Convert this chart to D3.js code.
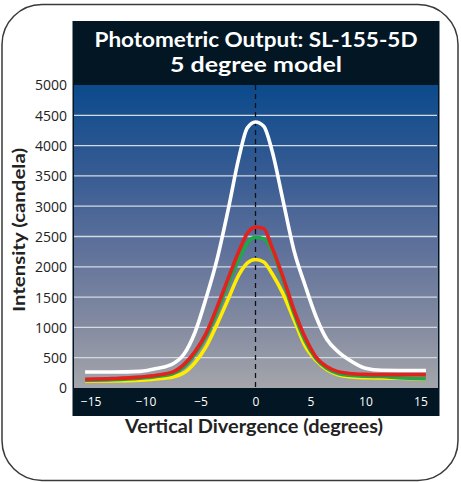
<!DOCTYPE html>
<html>
<head>
<meta charset="utf-8">
<script src="https://cdn.jsdelivr.net/npm/d3@7"></script>
<style>
  html, body { margin: 0; padding: 0; background: #fff; }
  svg { display: block; }
</style>
</head>
<body>
<svg id="chart" width="461" height="482"></svg>
<script>
// ---- data ----
const titleLines = ["Photometric Output: SL-155-5D", "5 degree model"];
const xLabel = "Vertical Divergence (degrees)";
const yLabel = "Intensity (candela)";
const xTicks = [-15, -10, -5, 0, 5, 10, 15];
const yTicks = [0, 500, 1000, 1500, 2000, 2500, 3000, 3500, 4000, 4500, 5000];
const degrees = [-15.5, -13, -10.5, -9, -7.5, -6.5, -5.5, -4.5, -3.5, -2.5, -1.5, -0.75, 0, 0.75, 1.5, 2.5, 3.5, 4.5, 5.5, 6.5, 7.5, 8.5, 10, 11.5, 13, 15.5];
const whiteValues  = [265, 265, 275, 320, 400, 560, 920, 1480, 2120, 2930, 3810, 4290, 4390, 4320, 3920, 3097, 2270, 1700, 1180, 800, 600, 465, 325, 292, 290, 290];
const yellowValues = [115, 118, 130, 150, 181, 250, 420, 677, 1050, 1460, 1870, 2060, 2120, 2080, 1890, 1557, 1130, 700, 457, 300, 220, 185, 170, 165, 160, 150];
const greenValues  = [127, 135, 160, 190, 240, 350, 560, 850, 1250, 1720, 2120, 2390, 2485, 2460, 2270, 1777, 1230, 780, 485, 320, 240, 210, 195, 190, 170, 155];
const redValues    = [143, 155, 180, 210, 265, 390, 600, 897, 1330, 1800, 2260, 2550, 2655, 2630, 2320, 1832, 1290, 840, 512, 350, 270, 240, 225, 221, 220, 220];
const seriesNames  = ["white", "yellow", "green", "red"];
const seriesColors = ["#ffffff", "#ffec00", "#1fa84a", "#e3211f"];

const series = [whiteValues, yellowValues, greenValues, redValues].map((vals, i) => ({
  name: seriesNames[i], color: seriesColors[i],
  points: degrees.map((d, j) => [d, vals[j]])
}));

// ---- layout ----
const svg = d3.select("#chart");
const L = 74, R = 438, T = 85, B = 388;
const x = d3.scaleLinear().domain([-16.6, 16.6]).range([73, 438]);
const y = d3.scaleLinear().domain([0, 5000]).range([B, T]);
const dark = "#021623";

// outer rounded frame
svg.append("rect").attr("x", 2).attr("y", 4.5).attr("width", 456).attr("height", 476)
  .attr("rx", 40).attr("ry", 40).attr("fill", "#fff").attr("stroke", "#3a3a3a").attr("stroke-width", 1.5);

// gradient
const defs = svg.append("defs");
const grad = defs.append("linearGradient").attr("id", "bg").attr("x1", 0).attr("y1", 0).attr("x2", 0).attr("y2", 1);
[[0, "#0b4a8c"], [0.3, "#385c93"], [0.55, "#60729b"], [0.8, "#858ca1"], [1, "#a4a6ab"]]
  .forEach(([o, c]) => grad.append("stop").attr("offset", o).attr("stop-color", c));

// dark frame / header / x band
svg.append("rect").attr("x", 72.5).attr("y", 21).attr("width", 367).attr("height", 395).attr("fill", dark);
svg.append("rect").attr("x", L).attr("y", T).attr("width", R - L).attr("height", B - T).attr("fill", "url(#bg)");

// gridlines
svg.append("g").selectAll("line").data(yTicks.filter(v => v > 0 && v < 5000)).join("line")
  .attr("x1", L).attr("x2", R - 1).attr("y1", d => y(d)).attr("y2", d => y(d))
  .attr("stroke", "#d4dae4").attr("stroke-width", 1.3);

// center dashed line
svg.append("line").attr("x1", x(0)).attr("x2", x(0)).attr("y1", T).attr("y2", B)
  .attr("stroke", "#111").attr("stroke-width", 1.3).attr("stroke-dasharray", "5,4");

// curves
const line = d3.line().x(d => x(d[0])).y(d => y(d[1])).curve(d3.curveMonotoneX);
svg.append("g").selectAll("path").data(series).join("path")
  .attr("d", d => line(d.points)).attr("fill", "none")
  .attr("stroke", d => d.color).attr("stroke-width", 3.6)
  .attr("stroke-linejoin", "round").attr("stroke-linecap", "butt");

// y axis labels
const yAxis = d3.axisLeft(y).tickValues(yTicks).tickSize(0).tickPadding(0).tickFormat(d3.format("d"));
const gy = svg.append("g").attr("transform", "translate(67,0)").call(yAxis);
gy.select(".domain").remove();
gy.selectAll("text").attr("font-family", "'Open Sans', sans-serif").attr("font-size", 14)
  .attr("fill", "#222").attr("dy", "0.35em");

// x axis labels
const xAxis = d3.axisBottom(x).tickValues(xTicks).tickSize(0).tickPadding(0).tickFormat(d3.format("d"));
const gx = svg.append("g").attr("transform", "translate(0,402)").call(xAxis);
gx.select(".domain").remove();
gx.selectAll("text").attr("font-family", "'Open Sans', sans-serif").attr("font-size", 12)
  .attr("fill", "#fff").attr("dy", "0.35em");

// titles
const titleWidths = [323, 172];
svg.append("g").selectAll("text").data(titleLines).join("text")
  .attr("x", 256).attr("y", (d, i) => 47 + i * 25).attr("text-anchor", "middle")
  .attr("font-family", "Lato, sans-serif").attr("font-weight", "bold").attr("font-size", 21)
  .attr("textLength", (d, i) => titleWidths[i]).attr("lengthAdjust", "spacingAndGlyphs")
  .attr("fill", "#fff").text(d => d);

svg.append("text").attr("x", 254).attr("y", 433).attr("text-anchor", "middle")
  .attr("font-family", "Lato, sans-serif").attr("font-weight", "bold").attr("font-size", 18)
  .attr("textLength", 258).attr("lengthAdjust", "spacingAndGlyphs")
  .attr("fill", "#222").text(xLabel);

svg.append("text").attr("transform", "translate(25,230) rotate(-90)").attr("text-anchor", "middle")
  .attr("font-family", "Lato, sans-serif").attr("font-weight", "bold").attr("font-size", 17)
  .attr("textLength", 164).attr("lengthAdjust", "spacingAndGlyphs")
  .attr("fill", "#222").text(yLabel);
</script>
</body>
</html>
